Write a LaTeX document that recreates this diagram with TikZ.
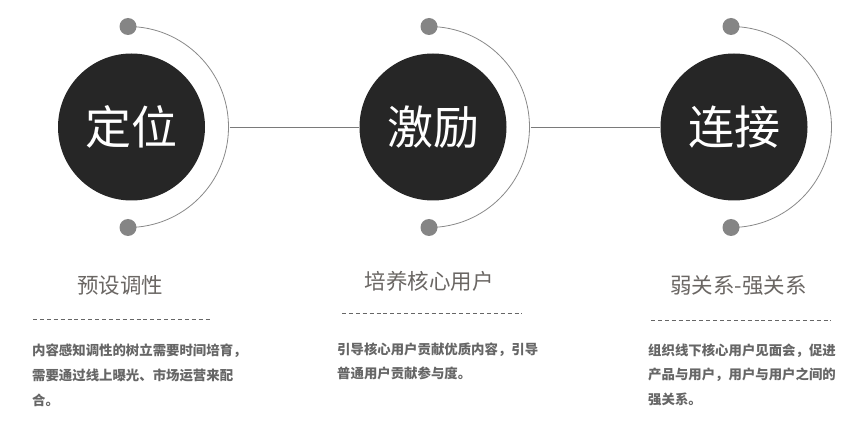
\documentclass[tikz,border=0pt]{standalone}
\usepackage{fontspec}
\setmainfont{Noto Sans CJK SC}
\usetikzlibrary{backgrounds}
\definecolor{disc}{HTML}{262626}
\definecolor{dotc}{HTML}{858585}
\definecolor{arcc}{HTML}{8A8A8A}
\definecolor{linec}{HTML}{7A7A7A}
\definecolor{headc}{HTML}{6A6663}
\definecolor{bodyc}{HTML}{666666}
\tikzset{
  bigc/.style={circle, fill=disc, minimum size=147pt, inner sep=0pt, text=white,
    font=\fontsize{46}{46}\selectfont},
  dotn/.style={circle, fill=dotc, minimum size=17pt, inner sep=0pt},
  arcline/.style={draw=arcc, line width=0.8pt},
  conn/.style={draw=linec, line width=0.9pt},
  dashline/.style={draw=bodyc, line width=0.9pt, dash pattern=on 4pt off 2.9pt},
  head/.style={anchor=base, inner sep=0pt, text=headc, font=\fontsize{21.5}{21.5}\selectfont},
  body/.style={anchor=base west, inner sep=0pt, text=bodyc, align=left,
    font=\fontsize{13.4}{24.8}\selectfont\bfseries},
}
\begin{document}
\begin{tikzpicture}[x=1pt, y=-1pt]
\useasboundingbox (0,0) rectangle (855,433);
% big circles
\node[bigc] (c1) at (131.5,127) {\raisebox{4.5pt}{定位}};
\node[bigc] (c2) at (433,127) {\raisebox{4.5pt}{激励}};
\node[bigc] (c3) at (734,127) {\raisebox{4.5pt}{连接}};
% dots
\node[dotn] (t1) at (128,26.5) {};
\node[dotn] (b1) at (128,227.5) {};
\node[dotn] (t2) at (429,26.5) {};
\node[dotn] (b2) at (429,227.5) {};
\node[dotn] (t3) at (731,26.5) {};
\node[dotn] (b3) at (731,227.5) {};
% arc right points
\coordinate (r1) at (229.5,127);
\coordinate (r2) at (530.5,127);
\coordinate (r3) at (831.5,127);
\begin{scope}[on background layer]
\draw[arcline] (t1.center) arc[start angle=-90, end angle=90, radius=100.5];
\draw[arcline] (t2.center) arc[start angle=-90, end angle=90, radius=100.5];
\draw[arcline] (t3.center) arc[start angle=-90, end angle=90, radius=100.5];
\end{scope}
% connectors
\draw[conn] (r1) -- (c2.west);
\draw[conn] (r2) -- (c3.west);
% headings
\node[head] (h1) at (120,293.5) {预设调性};
\node[head] (h2) at (429,290) {培养核心用户};
\node[head] (h3) at (738.5,293.5) {弱关系-强关系};
% dashed rules
\coordinate (d1a) at (33,319);
\coordinate (d1b) at (212,319);
\coordinate (d2a) at (342,313);
\coordinate (d2b) at (522,313);
\coordinate (d3a) at (651,320);
\coordinate (d3b) at (831,320);
\draw[dashline] (d1a) -- (d1b);
\draw[dashline] (d2a) -- (d2b);
\draw[dashline] (d3a) -- (d3b);
% body text (base anchor = baseline of last line)
\node[body] (p1) at (32,405.1) {内容感知调性的树立需要时间培育，\\需要通过线上曝光、市场运营来配\\合。};
\node[body] (p2) at (337,378.8) {引导核心用户贡献优质内容，引导\\普通用户贡献参与度。};
\node[body] (p3) at (648,404.6) {组织线下核心用户见面会，促进\\产品与用户，用户与用户之间的\\强关系。};
\end{tikzpicture}
\end{document}
